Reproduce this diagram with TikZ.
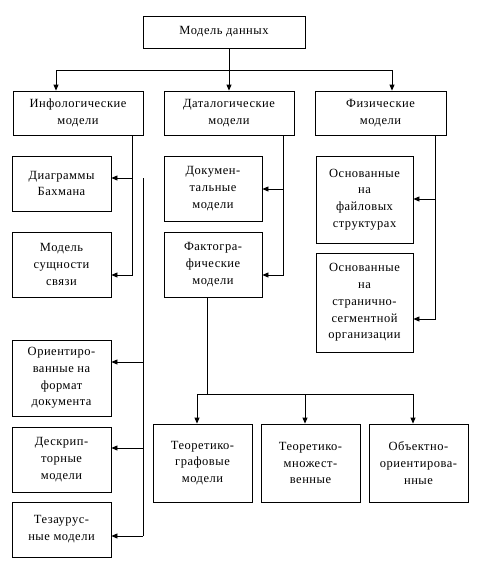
\documentclass[tikz,border=0pt]{standalone}
\usepackage{fontspec}
\setmainfont[LetterSpace=4]{Liberation Serif}
\usetikzlibrary{arrows.meta}
\begin{document}
\begin{tikzpicture}[
    x=1pt, y=-1pt,
    box/.style={draw=black, fill=white, line width=0.8pt, align=center, inner sep=1pt,
        font=\fontsize{12.5}{16.8}\selectfont},
    size/.style 2 args={minimum width=#1pt, minimum height=#2pt},
    link/.style={line width=0.8pt, -{Triangle[length=6pt, width=5pt]}}
]
\useasboundingbox (0,0) rectangle (478,574);

\node[box, size={162}{32}] (root) at (224,32) {Модель данных};

\node[box, size={130}{44}] (info) at (78,113) {Инфологические\\модели};
\node[box, size={130}{44}] (data) at (229,113) {Даталогические\\модели};
\node[box, size={131}{44}] (phys) at (380.5,113) {Физические\\модели};

\node[box, size={99}{55}] (bachman) at (61.5,183.5) {Диаграммы\\Бахмана};
\node[box, size={99}{65}] (entity) at (61.5,264.5) {Модель\\сущности\\связи};
\node[box, size={99}{76}] (format) at (61.5,378) {Ориентиро-\\ванные на\\формат\\документа};
\node[box, size={99}{65}] (descr) at (61.5,459.5) {Дескрип-\\торные\\модели};
\node[box, size={99}{55}] (thes) at (61.5,529.5) {Тезаурус-\\ные модели};

\node[box, size={98}{65}] (docum) at (213,188.5) {Докумен-\\тальные\\модели};
\node[box, size={98}{65}] (fact) at (213,264.5) {Фактогра-\\фические\\модели};

\node[box, size={97}{87}] (files) at (364.5,199.5) {Основанные\\на\\файловых\\структурах};
\node[box, size={97}{99}] (pages) at (364.5,302.5) {Основанные\\на\\странично-\\сегментной\\организации};

\node[box, size={99}{78}] (graph) at (202.5,463) {Теоретико-\\графовые\\модели};
\node[box, size={99}{78}] (sets) at (310.5,463) {Теоретико-\\множест-\\венные};
\node[box, size={99}{78}] (objs) at (418.5,463) {Объектно-\\ориентирова-\\нные};

% bus under the root
\coordinate (busL) at (56,70);
\coordinate (busR) at (392,70);
\draw[link] (root.south -| data) -- (data.north);
\draw[link] (busL -| data) -- (busL) -- (busL |- info.north);
\draw[link] (busL -| data) -- (busR) -- (busR |- phys.north);

% infological branch
\coordinate (infoV) at (132,275);
\draw[link] (info.south -| infoV) -- (infoV) -- (infoV -| entity.east);
\draw[link] (132,178) -- (bachman.east |- 0,178);

% documental branch
\coordinate (docTop) at (143,178);
\coordinate (docBot) at (143,536);
\draw[line width=0.8pt] (docTop) -- (docBot);
\draw[link] (docBot) -- (docBot -| thes.east);
\draw[link] (docTop |- 0,362) -- (format.east |- 0,362);
\draw[link] (docTop |- 0,448) -- (descr.east |- 0,448);

% datalogical branch
\coordinate (dataV) at (283,275);
\draw[link] (data.south -| dataV) -- (dataV) -- (dataV -| fact.east);
\draw[link] (dataV |- 0,189) -- (docum.east |- 0,189);

% physical branch
\coordinate (physV) at (435,319);
\draw[link] (phys.south -| physV) -- (physV) -- (physV -| pages.east);
\draw[link] (physV |- 0,199) -- (files.east |- 0,199);

% factographic branch
\coordinate (factL) at (197,394);
\coordinate (factR) at (413,394);
\draw[line width=0.8pt] (fact.south -| 207,0) -- (207,394);
\draw[link] (factL -| 207,0) -- (factL) -- (factL |- graph.north);
\draw[link] (factL -| 207,0) -- (factR) -- (factR |- objs.north);
\draw[link] (factL -| sets.north) ++(-5.5,0) coordinate (setsTop) -- (setsTop |- sets.north);

\end{tikzpicture}
\end{document}
